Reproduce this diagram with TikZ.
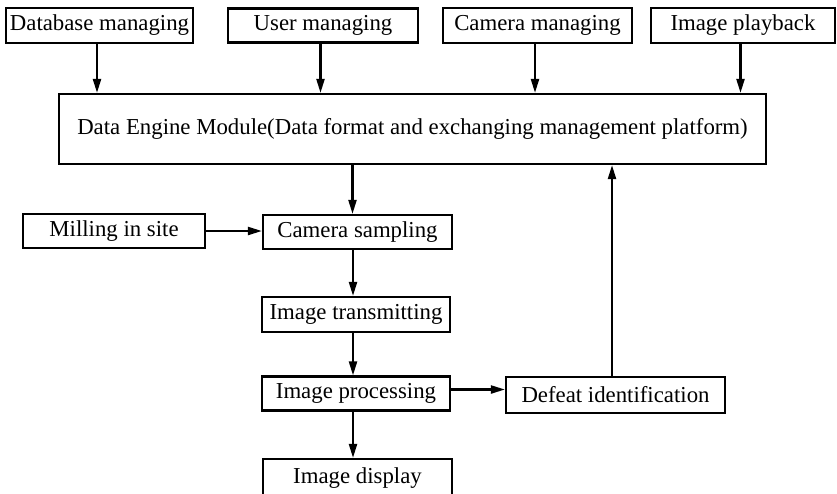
\documentclass[tikz,border=0pt]{standalone}
\usepackage{fontspec}
\setmainfont{Liberation Serif}
\usetikzlibrary{arrows.meta}
\begin{document}
\begin{tikzpicture}[x=1pt,y=-1pt,
  box/.style={draw, line width=2.2pt, inner sep=0pt, font=\fontsize{22.8}{27}\selectfont},
  arr/.style={line width=2.2pt, -{Triangle[length=14pt,width=8pt]}}]
\useasboundingbox (0,0) rectangle (837,493);
\node[box, minimum width=187pt, minimum height=35pt] (db) at (99.5,25.5) {Database managing};
\node[box, minimum width=190pt, minimum height=34pt] (user) at (323,25.5) {User managing};
\node[box, minimum width=189pt, minimum height=35pt] (cam) at (537.5,25.5) {Camera managing};
\node[box, minimum width=184pt, minimum height=35pt] (play) at (743,25.5) {Image playback};
\node[box, minimum width=707pt, minimum height=70pt] (dem) at (412.5,129) {Data Engine Module(Data format and exchanging management platform)};
\node[box, minimum width=182pt, minimum height=34pt] (mill) at (114,231) {Milling in site};
\node[box, minimum width=189pt, minimum height=34pt] (samp) at (357.5,232) {Camera sampling};
\node[box, minimum width=188pt, minimum height=35pt] (trans) at (356,314.5) {Image transmitting};
\node[box, minimum width=188pt, minimum height=34pt] (proc) at (356,393.5) {Image processing};
\node[box, minimum width=219pt, minimum height=36pt] (def) at (615.5,395) {Defeat identification};
\node[box, minimum width=189pt, minimum height=38pt] (disp) at (357.5,478) {Image display};
\foreach \n in {db,user,cam,play}
  \draw[arr] ([xshift=-2.5pt]\n.south) -- ([xshift=-2.5pt]\n.south |- dem.north);
\draw[arr] ([xshift=-5pt]samp.north |- dem.south) -- ([xshift=-5pt]samp.north);
\draw[arr] (mill.east) -- (mill.east -| samp.west);
\draw[arr] ([xshift=-4.5pt]samp.south) -- ([xshift=-4.5pt]samp.south |- trans.north);
\draw[arr] ([xshift=-3pt]trans.south) -- ([xshift=-3pt]trans.south |- proc.north);
\draw[arr] ([xshift=-3pt]proc.south) -- ([xshift=-3pt]proc.south |- disp.north);
\draw[arr] ([yshift=4pt]proc.east) -- ([yshift=4pt]proc.east -| def.west);
\draw[arr] ([xshift=-3.5pt]def.north) -- ([xshift=-3.5pt]def.north |- dem.south);
\end{tikzpicture}
\end{document}
